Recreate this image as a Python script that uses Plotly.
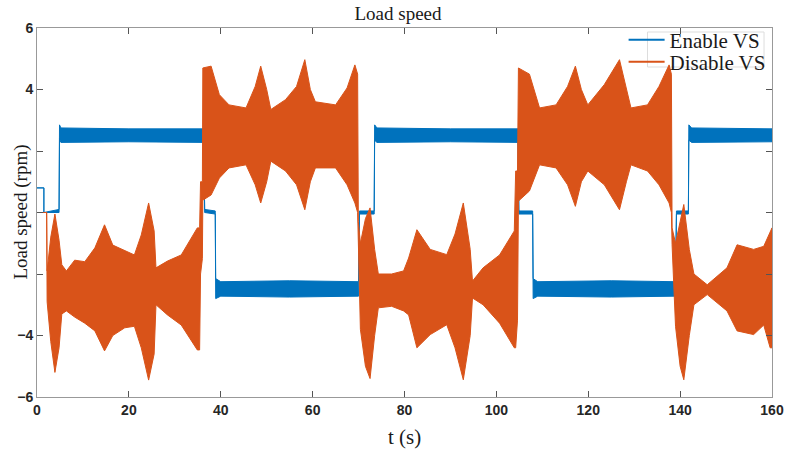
import plotly.graph_objects as go

# ---- Data (envelopes of the oscillating signals) ----
# Enable VS (blue): time knots, upper and lower envelope (rpm)
enable_t = [0.0, 1.5, 1.5, 4.8, 4.9, 5.2, 20.0, 36.3, 36.5, 38.8, 38.9, 40.0, 55.0, 70.0, 70.2, 73.4,
            73.5, 74.0, 90.0, 104.7, 104.9, 107.9, 108.0, 109.0, 125.0, 139.0, 139.2, 141.8, 141.9, 142.5, 160.0]
enable_hi = [0.8, 0.8, 0.0, 0.1, 2.85, 2.75, 2.72, 2.72, 0.1, 0.05, -2.15, -2.25, -2.22, -2.25, 0.05, 0.05,
             2.85, 2.75, 2.72, 2.72, 0.05, 0.05, -2.15, -2.25, -2.22, -2.25, 0.05, 0.05, 2.85, 2.75, 2.72]
enable_lo = [0.8, 0.8, 0.0, 0.0, 2.4, 2.28, 2.3, 2.28, 0.0, -0.05, -2.8, -2.72, -2.75, -2.72, -0.05, -0.05,
             2.35, 2.28, 2.3, 2.28, -0.05, -0.05, -2.8, -2.72, -2.75, -2.72, -0.05, -0.05, 2.35, 2.28, 2.3]

# Disable VS (orange): time knots, upper and lower envelope (rpm)
disable_t = [0.0, 2.1, 2.2, 3.0, 3.9, 4.8, 5.4, 6.4, 8.2, 10.4, 12.6, 14.7, 16.5, 19.1, 21.2, 22.7, 24.3,
             25.5, 25.9, 28.4, 31.4, 34.9, 35.4, 35.6, 36.0, 36.1, 37.9, 39.7, 41.8, 45.5, 47.5, 48.7, 50.0,
             50.9, 54.1, 56.5, 58.3, 59.5, 60.6, 65.0, 67.5, 69.2, 69.8, 69.95, 70.4, 71.5, 72.5, 73.5, 74.3,
             77.2, 79.8, 80.9, 82.7, 85.6, 89.2, 91.0, 92.8, 94.3, 94.8, 97.1, 100.7, 103.9, 104.2, 104.6,
             104.8, 107.2, 109.4, 113.0, 115.5, 117.2, 118.5, 119.9, 123.5, 126.8, 128.3, 129.3, 132.9,
             135.4, 137.6, 138.1, 138.25, 139.0, 140.0, 140.8, 142.0, 143.0, 145.9, 150.2, 152.4, 156.0,
             158.2, 159.6, 160.0]
disable_hi = [0.0, 0.0, -1.9, -0.8, -0.05, -0.9, -1.7, -1.9, -1.55, -1.6, -1.15, -0.4, -1.06, -1.25, -1.38,
              -0.73, 0.31, -0.6, -1.8, -1.58, -1.38, -0.5, -0.5, 1.0, 1.0, 4.7, 4.76, 3.83, 3.5, 3.4, 4.1,
              4.76, 4.0, 3.35, 3.67, 4.1, 4.97, 4.0, 3.6, 3.5, 4.05, 4.8, 4.5, -0.3, -1.0, -0.2, 0.15, -1.2,
              -2.0, -2.0, -1.9, -1.48, -0.56, -1.2, -1.37, -0.7, 0.31, -1.2, -2.23, -1.8, -1.38, -0.6, 1.35,
              1.35, 4.7, 4.5, 3.4, 3.5, 4.1, 4.76, 4.0, 3.5, 4.16, 4.97, 4.0, 3.4, 3.5, 4.1, 4.8, 4.5, -0.5,
              -1.0, -0.3, 0.26, -1.2, -2.0, -2.35, -1.8, -1.05, -1.2, -1.1, -0.6, -0.5]
disable_lo = [0.0, 0.0, -2.9, -4.2, -5.2, -4.4, -3.3, -3.2, -3.4, -3.6, -3.85, -4.5, -4.0, -3.75, -3.7,
              -4.4, -5.45, -4.6, -3.0, -3.33, -3.66, -4.47, -4.47, -2.0, -1.5, 0.4, 0.57, 1.12, 1.45, 1.55,
              0.9, 0.31, 1.0, 1.67, 1.35, 0.9, 0.09, 1.0, 1.45, 1.45, 0.9, 0.31, 0.0, -0.9, -3.8, -5.0, -5.4,
              -4.0, -3.1, -3.05, -3.2, -3.33, -4.4, -3.97, -3.65, -4.4, -5.44, -4.0, -2.78, -3.0, -3.6, -4.4,
              -4.4, -3.5, 0.37, 0.7, 1.55, 1.45, 0.9, 0.2, 1.0, 1.35, 0.9, 0.09, 1.0, 1.55, 1.35, 0.9, 0.31,
              0.0, -1.05, -3.7, -5.0, -5.44, -4.0, -3.0, -2.67, -3.2, -3.85, -3.97, -3.66, -4.4, -4.4]

x_ticks = [0, 20, 40, 60, 80, 100, 120, 140, 160]
y_ticks = [6, 4, 2, 0, -2, -4, -6]
y_ticktext = ["6", "4", "", "", "", "\u22124", "\u22126"]

BLUE = "#0072BD"
ORANGE = "#D95319"

fig = go.Figure()

# Enable VS band
fig.add_trace(go.Scatter(
    x=enable_t + enable_t[::-1], y=enable_hi + enable_lo[::-1],
    fill="toself", fillcolor=BLUE, mode="lines",
    line=dict(color=BLUE, width=1), showlegend=False, hoverinfo="skip"))

# Disable VS band
fig.add_trace(go.Scatter(
    x=disable_t + disable_t[::-1], y=disable_hi + disable_lo[::-1],
    fill="toself", fillcolor=ORANGE, mode="lines",
    line=dict(color=ORANGE, width=1), showlegend=False, hoverinfo="skip"))

# Legend entries
fig.add_trace(go.Scatter(x=[None], y=[None], mode="lines", name="Enable VS",
                         line=dict(color=BLUE, width=2), legend="legend"))
fig.add_trace(go.Scatter(x=[None], y=[None], mode="lines", name="Disable VS",
                         line=dict(color=ORANGE, width=2), legend="legend2"))

tickfont = dict(family="Liberation Sans Narrow, Liberation Sans, Arial", size=14, color="#262626",
                weight="bold")
serif = "Liberation Serif, Times New Roman, serif"
legfont = dict(family=serif, size=21, color="#1a1a1a")

fig.update_layout(
    width=796, height=459,
    margin=dict(l=37, r=21, t=28, b=62),
    paper_bgcolor="white", plot_bgcolor="white",
    showlegend=True,
    legend=dict(x=(626 - 37) / 738, y=1 - (40 - 28) / 369, xanchor="left", yanchor="middle",
                bgcolor="rgba(0,0,0,0)", borderwidth=0, font=legfont, itemwidth=36),
    legend2=dict(x=(626 - 37) / 738, y=1 - (62 - 28) / 369, xanchor="left", yanchor="middle",
                 bgcolor="rgba(0,0,0,0)", borderwidth=0, font=legfont, itemwidth=36),
    title=dict(text="Load speed", x=0.5, xanchor="center", y=1 - 13 / 459, yref="container",
               yanchor="middle", font=dict(family=serif, size=19, color="#1a1a1a")),
    xaxis=dict(range=[0, 160], tickvals=x_ticks, ticks="inside", ticklen=6, tickcolor="#555",
               showgrid=False, zeroline=False, showline=True, linecolor="#999", linewidth=1,
               mirror="ticks", tickfont=tickfont),
    yaxis=dict(range=[-6, 6], tickvals=y_ticks, ticktext=y_ticktext, ticks="inside", ticklen=6,
               tickcolor="#555", showgrid=False, zeroline=False, showline=True, linecolor="#999",
               linewidth=1, mirror="ticks", tickfont=tickfont),
    annotations=[
        dict(text="t (s)", xref="paper", yref="paper", x=0.5, y=-40 / 369, xanchor="center",
             yanchor="middle", showarrow=False, font=dict(family=serif, size=21, color="#1a1a1a")),
        dict(text="Load speed (rpm)", xref="paper", yref="paper", x=-17 / 738, y=0.5, textangle=-90,
             xanchor="center", yanchor="middle", showarrow=False,
             font=dict(family=serif, size=19, color="#1a1a1a")),
    ],
    shapes=[dict(type="rect", xref="paper", yref="paper", x0=(650 - 37) / 738, x1=(767 - 37) / 738,
                 y0=1 - (67 - 28) / 369, y1=1 - (32 - 28) / 369,
                 line=dict(color="#dddddd", width=1), fillcolor="rgba(0,0,0,0)", layer="below")],
)

fig.write_html("out.html")
